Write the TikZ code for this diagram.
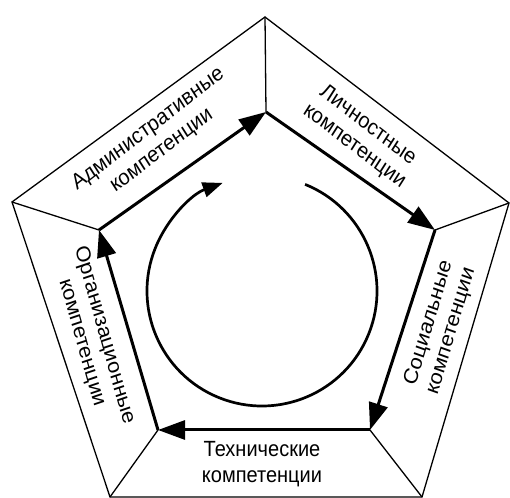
\documentclass[tikz,border=0pt]{standalone}
\usepackage{fontspec}
\setmainfont{Liberation Sans}
\usetikzlibrary{arrows.meta}

\begin{document}
\begin{tikzpicture}[x=1pt, y=1pt,
    frame/.style={line width=1.3pt},
    flow/.style={line width=3pt, -{Triangle[length=27pt, width=19pt]}},
    cycle/.style={line width=2.7pt, -{Triangle[length=20pt, width=15pt]}},
    label/.style={align=center, yscale=1.1, inner sep=0pt, font=\fontsize{20}{23.5}\selectfont}]
  \useasboundingbox (0,0) rectangle (510,497);
  % outer pentagon
  \coordinate (oT) at (265,480);
  \coordinate (oR) at (509,294);
  \coordinate (oBR) at (422,0);
  \coordinate (oBL) at (110,0);
  \coordinate (oL) at (12,295);
  % inner pentagon
  \coordinate (iT) at (266,385);
  \coordinate (iR) at (435,267);
  \coordinate (iBR) at (370,67);
  \coordinate (iBL) at (158,67);
  \coordinate (iL) at (99,267);

  \draw[frame] (oT) -- (oR) -- (oBR) -- (oBL) -- (oL) -- cycle;
  \foreach \v in {T, R, BR, BL, L}
    \draw[frame] (o\v) -- (i\v);

  \draw[flow] (iL) -- (iT);
  \draw[flow] (iT) -- (iR);
  \draw[flow] (iR) -- (iBR);
  \draw[flow] (iBR) -- (iBL);
  \draw[flow] (iBL) -- (iL);

  \coordinate (hub) at (262,206);
  \draw[cycle] ([shift={(68:115)}]hub) arc[start angle=68, end angle=-250, radius=115];

  \node[label, rotate=35] (admin) at (155,357) {Административные\\компетенции};
  \node[label, rotate=-35] (pers) at (361,361) {Личностные\\компетенции};
  \node[label, rotate=72] (soc) at (440,170) {Социальные\\компетенции};
  \node[label] (tech) at (262,33) {Технические\\компетенции};
  \node[label, rotate=-73] (org) at (93,158) {Организационные\\компетенции};
\end{tikzpicture}
\end{document}
